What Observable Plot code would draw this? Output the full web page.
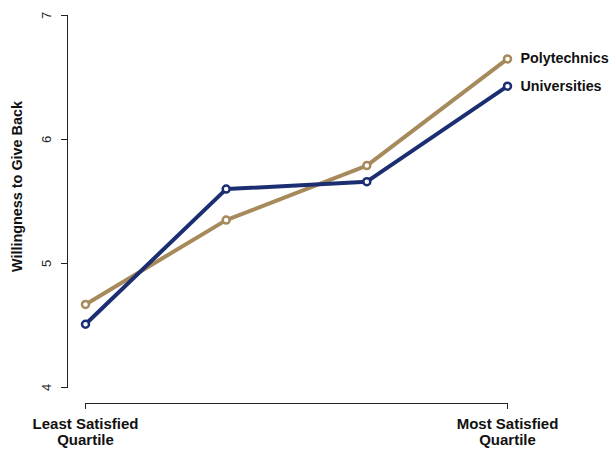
<!DOCTYPE html>
<html><head><meta charset="utf-8">
<script src="https://cdn.jsdelivr.net/npm/d3@7"></script>
<script src="https://cdn.jsdelivr.net/npm/@observablehq/plot@0.6"></script>
<style>body{margin:0;background:#fff}</style>
</head><body><div id="chart"></div>
<script>
const quartiles = [1, 2, 3, 4];
const quartileLabels = ["Least Satisfied\nQuartile", "", "", "Most Satisfied\nQuartile"];
const seriesNames = ["Polytechnics", "Universities"];
const polytechnics = [4.67, 5.35, 5.79, 6.65];
const universities = [4.51, 5.60, 5.66, 6.43];
const yTicks = [4, 5, 6, 7];
const xTicks = [1, 4];
const colors = ["#A68A5B", "#1B2E72"];

const rows = [];
[polytechnics, universities].forEach((vals, i) =>
  vals.forEach((v, j) => rows.push({series: seriesNames[i], q: quartiles[j], v})));

const font = "'Liberation Sans', Arial, Helvetica, sans-serif";
const chart = Plot.plot({
  width: 610, height: 451,
  marginLeft: 67, marginRight: 103, marginTop: 15, marginBottom: 64,
  insetLeft: 18,
  style: {fontFamily: font, background: "#fff"},
  x: {domain: [1, 4], axis: null},
  y: {domain: [4, 7], axis: null},
  color: {domain: seriesNames, range: colors},
  marks: [
    Plot.frame({anchor: "left", stroke: "#222", strokeWidth: 1}),
    Plot.axisY({ticks: yTicks, tickSize: 6, tickFormat: () => "", label: null, stroke: "#222"}),
    Plot.text(yTicks, {y: d => d, text: d => String(d), frameAnchor: "left", textAnchor: "middle", dx: -21, rotate: -90, fontSize: 13, fill: "#222"}),
    Plot.text(["Willingness to Give Back"], {frameAnchor: "left", textAnchor: "middle", dx: -50, dy: -15, rotate: -90, fontSize: 14.4, fontWeight: "bold", fill: "#111"}),
    Plot.ruleY([4], {x1: 1, x2: 4, dy: 16, stroke: "#222", strokeWidth: 1}),
    Plot.axisX({ticks: xTicks, tickSize: 6, dy: 16, tickFormat: () => "", label: null, stroke: "#222"}),
    Plot.text(quartiles, {x: d => d, y: 4, text: (d, i) => quartileLabels[i], dy: 44, fontSize: 15, fontWeight: "bold", fill: "#111", lineHeight: 1.1}),
    Plot.line(rows, {x: "q", y: "v", z: "series", stroke: "series", strokeWidth: 4}),
    Plot.dot(rows, {x: "q", y: "v", stroke: "series", fill: "white", r: 3.5, strokeWidth: 2.5}),
    Plot.text(rows, Plot.selectLast({x: "q", y: "v", z: "series", text: "series", textAnchor: "start", dx: 13, fontSize: 14.3, fontWeight: "bold", fill: "#111"}))
  ]
});
document.getElementById("chart").append(chart);
</script></body></html>
